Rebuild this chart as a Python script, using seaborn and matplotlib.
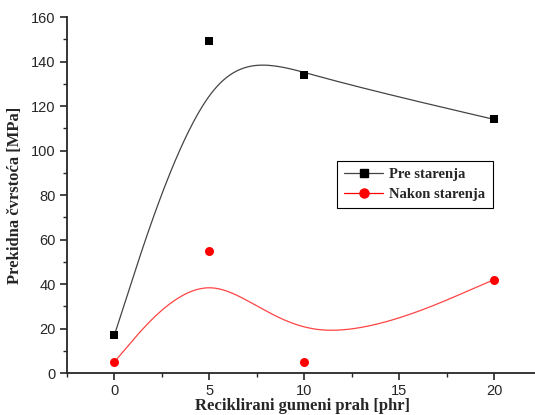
import matplotlib
import matplotlib.pyplot as plt
import numpy as np
import pandas as pd
import seaborn as sns
from matplotlib.ticker import MultipleLocator

matplotlib.use("Agg")

# ---------------------------------------------------------------------------
# Data
# ---------------------------------------------------------------------------
phr = [0, 5, 10, 20]
pre_starenja = [17, 149, 134, 114]
nakon_starenja = [5, 55, 5, 42]


def bspline3(xs, ys, n=60):
    """Uniform cubic B-spline with the data as control points (ends tripled)."""
    P = np.column_stack([xs, ys]).astype(float)
    C = np.vstack([P[:1], P[:1], P, P[-1:], P[-1:]])
    t = np.linspace(0, 1, n)[:, None]
    b0 = (1 - t) ** 3 / 6
    b1 = (3 * t**3 - 6 * t**2 + 4) / 6
    b2 = (-3 * t**3 + 3 * t**2 + 3 * t + 1) / 6
    b3 = t**3 / 6
    segs = [b0 * C[i] + b1 * C[i + 1] + b2 * C[i + 2] + b3 * C[i + 3]
            for i in range(len(C) - 3)]
    return np.vstack(segs)


df = pd.DataFrame({"phr": phr, "pre": pre_starenja, "nakon": nakon_starenja})

sns.set_style("ticks")
plt.rcParams["font.family"] = ["Liberation Sans", "DejaVu Sans"]

fig = plt.figure(figsize=(5.35, 4.15), dpi=100)
ax = fig.add_axes([0.125, 0.101, 0.88, 0.858])

c_pre = bspline3(df["phr"], df["pre"])
c_nak = bspline3(df["phr"], df["nakon"])
ax.plot(c_pre[:, 0], c_pre[:, 1], color="#444444", lw=0.9, zorder=2)
ax.plot(c_nak[:, 0], c_nak[:, 1], color="#ff4444", lw=0.9, zorder=2)

sns.scatterplot(data=df, x="phr", y="pre", ax=ax, marker="s", color="black",
                s=40, edgecolor="black", linewidth=0, zorder=3)
sns.scatterplot(data=df, x="phr", y="nakon", ax=ax, marker="o", color="red",
                s=42, edgecolor="red", linewidth=0, zorder=3)

# legend proxies
h1, = ax.plot([], [], color="#444444", lw=0.9, marker="s", ms=6, mfc="black", mec="black")
h2, = ax.plot([], [], color="red", lw=0.9, marker="o", ms=6.5, mfc="red", mec="red")
leg = ax.legend([h1, h2], ["Pre starenja", "Nakon starenja"],
                loc="upper left", bbox_to_anchor=(0.573, 0.596), borderaxespad=0,
                prop={"family": "Liberation Serif", "weight": "bold", "size": 10.5},
                frameon=True, fancybox=False, framealpha=1, edgecolor="black",
                handlelength=2.7, borderpad=0.5, labelspacing=0.45, handletextpad=0.4)
leg.get_frame().set_linewidth(0.8)

ax.set_xlim(-2.5, 22.3)
ax.set_ylim(0, 160)
ax.xaxis.set_major_locator(MultipleLocator(5))
ax.xaxis.set_minor_locator(MultipleLocator(2.5))
ax.yaxis.set_major_locator(MultipleLocator(20))
ax.yaxis.set_minor_locator(MultipleLocator(10))
ax.tick_params(which="major", direction="out", length=5, width=1.2, labelsize=10.5, pad=3)
ax.tick_params(which="minor", direction="out", length=3, width=1.0)

for s in ("left", "bottom"):
    ax.spines[s].set_linewidth(1.3)
sns.despine(ax=ax, top=True, right=True)

ax.set_xlabel("Reciklirani gumeni prah [phr]", family="Liberation Serif",
              weight="bold", fontsize=12, labelpad=0)
ax.set_ylabel("Prekidna čvrstoća [MPa]", family="Liberation Serif",
              weight="bold", fontsize=12, labelpad=6)

fig.savefig("out.png", dpi=100)
